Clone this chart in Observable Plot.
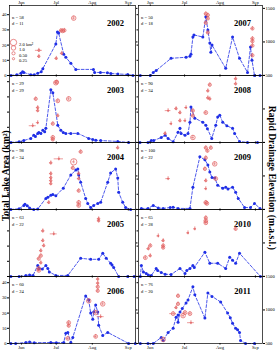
<!DOCTYPE html>
<html>
<head>
<meta charset="utf-8">
<script src="https://cdn.jsdelivr.net/npm/d3@7"></script>
<script src="https://cdn.jsdelivr.net/npm/@observablehq/plot@0.6"></script>
<style>
  html, body { margin: 0; padding: 0; background: #fff; }
  #chart { position: relative; width: 278px; height: 354px; overflow: hidden;
           font-family: "Liberation Serif", "Times New Roman", serif; }
  #chart svg { position: absolute; overflow: visible; }
  .vlabel { position: absolute; font-weight: bold; font-size: 9.6px; white-space: nowrap;
            transform-origin: center center; line-height: 1; }
</style>
</head>
<body>
<div id="chart"></div>
<script>
// Seasons shown, with image count (n) and number of drainage events (d)
const years  = [2002, 2003, 2004, 2005, 2006, 2007, 2008, 2009, 2010, 2011];
const nObs   = [58, 29, 98, 63, 60, 50, 90, 100, 65, 76];
const dCount = [11, 29, 34, 22, 24, 18, 34, 22, 28, 20];

// Month ticks (day of year of the 1st)
const monthDays  = [152, 182, 213, 244];
const monthNames = ["Jun", "Jul", "Aug", "Sep"];
const areaTicks  = [0, 10, 20, 30, 40];
const elevTicks  = [500, 1000, 1500];
const legendKm2  = [2.0, 1.0, 0.5, 0.25];
const legendText = ["2.0 km\u00b2", "1.0", "0.50", "0.25"];

// Total lake area: [day of year, km²]
const area2002 = [[143,0],[148,0.5],[151.5,1.5],[153,2.5],[154,2],[160,0.5],[163,0.5],[166,1.5],[169,2.5],[170.4,4.5],
  [181.6,20.7],[183,28.7],[184,28],[188.4,14],[190.2,12],[194.5,8],[198.8,4],[214,4],[215,2],[220,2],[226,1.8],[229,1.3],[235,1],[243.5,0.7],[248,0]];
const area2003 = [[143,0],[150,0.5],[154,1.3],[160,2.7],[162.6,4.7],[164,4],[166,6],[167,6.5],[168.7,6],[170.4,8],[172,7],[173,9.3],
  [177.3,34.7],[179,32.7],[183.3,11.3],[185.9,8],[188,6.5],[190.2,6],[194.5,6],[200.5,6],[209.9,2.7],[213.4,2],[216,1.5],[220.2,1.3],[234.9,0.7],[244.3,0]];
const area2004 = [[142.9,0],[150,0.5],[154,2.7],[155,3.5],[157,2.5],[159,1],[162.6,0],[166,0.3],[173,7.3],[174.7,8],[177.3,9.3],[179,9.8],[181.6,9],
  [188,14],[194.5,22.7],[198.8,26],[200.5,26.7],[201.3,22.7],[203,18],[207.3,7.3],[209.1,4],[211.6,1.3],[214.2,2.7],[217.7,4],[220.2,4.7],
  [226.3,18],[228.8,24],[233.1,26.7],[234.9,20.7],[235.7,11.3],[239.2,4.7],[241.7,1.3],[246,0]];
const area2005 = [[142.9,0],[150,0],[155.8,0.7],[159,1],[162,0.7],[166,7.3],[167,5.3],[170,5],[173,7.3],[174.7,5.3],[176,3],[181.6,0.7],[191.9,0.7],
  [203,12],[211.6,11.3],[218.5,11.3],[222,15.3],[225,12],[228.8,8.7],[230,7.5],[231.4,6],[235.7,0],[243.5,0],[249,0]];
const area2006 = [[142.9,0],[147,0],[155.8,0.7],[159,1],[163,0.5],[177.3,0.7],[182,0.5],[188.4,0.7],[190.2,6.7],[191.9,7.3],[194.5,0.7],[196.2,4],
  [207.3,31.3],[209.9,28.7],[211.6,20],[213.4,16],[214.2,20.7],[215.9,25.3],[217.7,20.7],[218.5,12],[222,5.3],[226.3,7.3],[244.3,0],[250,0]];
const area2007 = [[143.3,0],[152,0],[154.6,2],[157.2,3.3],[170.2,11.3],[183.3,12],[186.7,12.7],[187.6,14],[189.3,25.3],[190.2,26.7],[198,25.3],
  [200.6,38.7],[202.4,30],[204.1,21.3],[205,15.3],[206,20],[218,4.7],[224,25.3],[230.1,11.3],[237.1,2],[239.7,18.7],[241,10],[243.2,0],[248,0]];
const area2008 = [[143,0],[150,0],[152.9,1.3],[155,1.3],[161.6,3.3],[165,4.7],[167.6,2.7],[172,0.5],[176.3,6.7],[178,9.3],[179,6],[182.4,4.7],[185,6],
  [186.7,13.3],[187.6,23.3],[191,16],[198,13.3],[200.6,11.3],[202,9],[205.8,2.7],[209.3,11.3],[211,16.7],[212.8,18],[215.4,13.3],[219,11],
  [224,9.3],[225.8,6],[230.1,0.7],[237.1,0],[245.8,0]];
const area2009 = [[144.2,0.7],[150,0.7],[154.6,2.7],[159,1],[163.3,0.7],[169.4,1.3],[172,1.5],[176.3,0.7],[186.7,0.7],[189.3,14.7],[195.4,34.7],
  [199.8,32.7],[202.4,29.3],[204.1,24.7],[206,21],[208.4,20.7],[211,16],[215.4,14],[218,14.7],[220,13.5],[224,14.7],[226.7,11.3],[229,7.3],
  [234.5,1.3],[239.7,1.3],[243.2,4],[248,0.7]];
const area2010 = [[143.3,0],[144.2,7.3],[146,3],[148.5,2],[150.3,1],[152.9,0.7],[157.2,5.3],[158.5,4],[161.6,2.7],[165,1.5],[170.2,1.3],[178,5.3],
  [182.4,2],[184,4],[186.7,5.3],[189.3,7.3],[190.5,6],[199.8,16],[204.1,8.7],[211,8.7],[218,5.3],[221.5,12.7],[224,10.7],[226.7,8.7],[230.1,15.3],[248.4,0]];
const area2011 = [[143.3,0],[150,0],[154.6,0],[161.6,4],[163.3,2],[167.6,7.3],[172,10],[174.6,17.3],[176.3,18.7],[176.3,14],[178,20.7],[180,23],
  [183.3,26.7],[185,28.7],[189.3,37.3],[191,32],[199.8,16.7],[202.4,33.3],[206,31],[213.6,27.3],[219.7,20],[222,17],[224,13.3],[226.7,10],
  [228.4,9],[230.1,7.3],[231,2],[235.4,0],[243.2,0]];

// Rapid drainage events: [day of year, elevation m a.s.l., drained area km², date uncertainty ± days]
const drain2002 = [[186,1170,0.5,1.2],[187.5,1165,0.7,1.2],[189,1172,0.5,1.2],[197,1355,1.0,1.2],[186.7,830,0.25,1.2],[182,755,0.25,1.2],
  [167,875,0.25,3],[167,785,0.25,1.2]];
const drain2003 = [[181.6,1390,1.0,1.2],[182.4,1400,0.7,1.2],[183.3,1120,0.7,1.2],[192.7,1150,1.0,1.2],[164.3,1150,0.5,1.2],[166,1020,0.25,1.2],
  [166,975,0.25,1.2],[161.7,750,0.1,3],[166,795,0.1,1.2],[179,780,0.5,1.2],[183.3,900,0.25,1.2],[179,575,0.7,1.2],[179,545,0.5,1.2]];
const drain2004 = [[203,1360,0.5,1.2],[197,1210,2.0,1.2],[196.2,1120,0.5,1.2],[201.3,1035,0.25,1.2],[201.3,960,0.25,1.2],[201.3,780,0.5,1.2],
  [201.3,605,0.7,1.2],[201.3,560,0.7,1.2],[184.2,1255,0.1,4],[177.3,1195,0.25,1.2],[177.3,1035,0.25,1.2],[177.3,975,0.25,1.2],
  [177.3,930,0.25,1.2],[177.3,885,0.25,1.2],[175.5,605,0.25,1.2],[234.9,1420,0.25,1.2]];
const drain2005 = [[218.5,1360,0.25,1.2],[218.5,1330,0.25,1.2],[170.4,1180,0.25,1.2],[179.8,1135,0.1,3],[170.4,1035,0.25,1.2],[171.2,960,0.25,1.2],
  [168.7,885,0.25,1.2],[168.7,810,0.5,1.2],[166.9,765,0.5,1.2],[168.7,705,0.25,1.2],[166.9,620,0.7,1.2],[166.9,590,0.7,1.2]];
const drain2006 = [[217.7,1460,0.25,1.2],[217.7,1400,0.25,1.2],[217.7,1345,0.5,1.2],[217.7,1285,0.5,1.2],[209.9,1135,1.0,1.2],[222,1090,1.0,1.2],
  [215.9,960,1.0,1.2],[220.2,900,0.1,3],[192.7,810,0.7,1.2],[192.7,765,0.5,1.2],[191.9,575,0.7,1.2],[215.9,605,0.7,1.2]];
const drain2007 = [[200.6,1420,0.5,1.2],[202.4,1400,0.5,1.2],[202.4,1350,0.5,1.2],[200.6,1285,0.5,1.2],[202.4,1140,0.5,1.2],
  [241.4,1200,0.5,1.2],[241.4,1050,0.5,1.2],[241.4,1010,0.5,1.2],[241.4,945,0.5,1.2],[241.4,800,0.5,1.2]];
const drain2008 = [[226.7,1450,0.25,1.2],[226.7,1375,0.25,1.2],[204.1,1360,0.5,1.2],[202.4,1270,0.25,1.2],[202.4,1165,0.25,1.2],[204.1,1150,0.25,1.2],
  [200.6,945,0.7,1.2],[189.3,975,0.5,1.2],[189.3,900,0.5,1.2],[189.3,575,1.0,1.2],[167.6,975,0.1,2.5],[174.6,1005,0.25,1.2],[178,945,0.25,1.2],
  [183.3,1020,0.1,1.2],[178,825,0.25,1.2],[170.2,780,0.1,1.2],[182.4,825,0.1,1.2],[165,635,0.25,1.2]];
const drain2009 = [[200.6,1420,0.5,1.2],[205,1420,0.5,1.2],[202,1375,0.5,1.2],[200.6,1270,0.5,1.2],[208.4,1180,1.0,1.2],[199.8,1105,0.5,1.2],
  [209.3,960,0.7,1.2],[200.6,930,0.25,1.2],[200.6,810,0.1,1.2],[200.6,605,0.7,1.2],[201.5,590,0.7,1.2],[167.6,960,0.1,2]];
const drain2010 = [[200.6,1375,0.5,1.2],[200.6,1330,0.7,1.2],[200.6,1300,0.7,1.2],[226.7,1210,0.5,1.2],[191,1210,0.1,1.2],[185,1150,0.1,1.2],
  [159,1105,0.1,1.2],[163.3,1035,0.25,1.2],[152,960,0.5,1.2],[150.3,915,0.25,1.2],[163.3,960,0.5,1.2],[163.3,930,0.5,1.2],
  [147.7,780,0.7,1.2],[152,810,0.25,1.2]];
const drain2011 = [[176.3,1210,0.5,1.2],[176.3,1090,0.5,1.2],[174.6,1035,0.25,1.2],[172,945,0.7,3],[182.4,960,0.7,1.2],[180.7,915,1.0,1.2],
  [186.7,945,0.7,1.2],[187.6,810,0.1,3],[163.3,560,1.0,1.2]];

const areaSeries  = [area2002, area2003, area2004, area2005, area2006, area2007, area2008, area2009, area2010, area2011];
const drainSeries = [drain2002, drain2003, drain2004, drain2005, drain2006, drain2007, drain2008, drain2009, drain2010, drain2011];

const blue = "#1f2fe6";
const red = "#e05a5a";
const font = "'Liberation Serif', 'Times New Roman', serif";
const dayDomain = [141.7, 250.2];
const chart = document.getElementById("chart");

const monthLabel = d => monthNames[monthDays.indexOf(d)];
const plain = d => `${d}`;
const blank = () => "";

function place(svg, left, top) {
  svg.style.left = left + "px";
  svg.style.top = top + "px";
  chart.appendChild(svg);
}

years.forEach((year, i) => {
  const col = Math.floor(i / 5), row = i % 5;
  const fx = col ? 138 : 9, fw = col ? 124 : 126;
  const fy = row ? 75 + (row - 1) * 67 : 5, fh = row ? 67 : 70;
  const m = 14;
  const base = {
    width: fw + 2 * m, height: fh + 2 * m, margin: m,
    style: {background: "transparent", overflow: "visible", fontFamily: font, fontSize: "4.6px", color: "#000"},
    x: {domain: dayDomain, axis: null}
  };
  const topTxt = row ? 0 : 3.5;

  // Lake area panel (left axis)
  const areaPlot = Plot.plot({
    ...base,
    y: {domain: [0, fh / 1.52], axis: null},
    marks: [
      Plot.axisY(areaTicks, {anchor: "left", tickSize: col ? 1.5 : 2, tickPadding: 1, label: null,
        tickFormat: (col === 0 && (row === 0 || row === 4)) ? plain : blank}),
      Plot.axisX(monthDays, {anchor: "top", tickSize: 1.5, tickPadding: 0.5, label: null,
        tickFormat: row === 0 ? monthLabel : blank}),
      Plot.axisX(monthDays, {anchor: "bottom", tickSize: 1.5, tickPadding: 1, label: null,
        tickFormat: row === 4 ? monthLabel : blank}),
      Plot.line(areaSeries[i], {x: d => d[0], y: d => d[1], stroke: blue, strokeWidth: 0.8, strokeDasharray: "2.8,1.8"}),
      Plot.dot(areaSeries[i], {x: d => d[0], y: d => d[1], r: 1.5, fill: blue}),
      Plot.text([`n = ${nObs[i]}`], {frameAnchor: "top-left", dx: 2.5, dy: 6.5 + topTxt, textAnchor: "start", fontSize: 4.6}),
      Plot.text([`d = ${dCount[i]}`], {frameAnchor: "top-left", dx: 2.5, dy: 13 + topTxt, textAnchor: "start", fontSize: 4.6}),
      Plot.text([String(year)], {frameAnchor: "top-right", dx: -20, dy: 11 + topTxt, textAnchor: "middle",
        fontSize: 8.5, fontWeight: "bold"}),
      Plot.frame({stroke: "#000", strokeWidth: 0.7})
    ]
  });
  place(areaPlot, fx - m, fy - m);

  // Drainage elevation overlay (right axis), circle size = drained lake area
  const drain = drainSeries[i];
  const legend = i === 0 ? legendKm2.flatMap((s, k) => [
    Plot.dot([s], {frameAnchor: "top-left", dx: 4, dy: 37 + k * 5.4, r: d => d, stroke: red, strokeWidth: 0.7}),
    Plot.text([legendText[k]], {frameAnchor: "top-left", dx: 9.5, dy: 37 + k * 5.4, textAnchor: "start", fontSize: 4.6})
  ]) : [];
  const elevPlot = Plot.plot({
    ...base,
    y: {domain: [500, 500 + fh * 14.9], axis: null},
    r: {type: "sqrt", domain: [0, 2], range: [0, 3.2]},
    marks: [
      Plot.axisY(elevTicks, {anchor: "right", tickSize: col ? 2 : 1.5, tickPadding: 1, label: null,
        tickFormat: (col === 1 && (row === 0 || row === 4)) ? plain : blank}),
      Plot.ruleY(drain, {y: d => d[1], x1: d => d[0] - d[3], x2: d => d[0] + d[3], stroke: red, strokeWidth: 0.6}),
      Plot.ruleX(drain, {x: d => d[0], y1: d => d[1] - 30, y2: d => d[1] + 30, stroke: red, strokeWidth: 0.6}),
      Plot.dot(drain, {x: d => d[0], y: d => d[1], r: d => d[2], stroke: red, strokeWidth: 0.7, fill: "none"}),
      ...legend
    ]
  });
  place(elevPlot, fx - m, fy - m);
});

// Outer axis titles
function vlabel(text, cx, cy, angle) {
  const el = document.createElement("div");
  el.className = "vlabel";
  el.textContent = text;
  chart.appendChild(el);
  const w = el.offsetWidth, h = el.offsetHeight;
  el.style.left = (cx - w / 2) + "px";
  el.style.top = (cy - h / 2) + "px";
  el.style.transform = `rotate(${angle}deg)`;
}
vlabel("Total Lake Area (km\u00b2)", 5.6, 176, -90);
vlabel("Rapid Drainage Elevation (m.a.s.l.)", 271.5, 178, 90);
</script>
</body>
</html>
